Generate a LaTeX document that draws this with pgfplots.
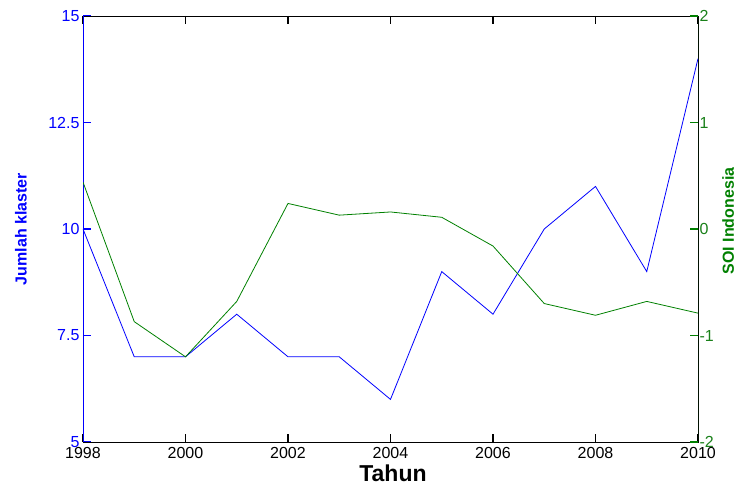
\documentclass[border=0pt]{standalone}
\usepackage{pgfplots}
\pgfplotsset{compat=1.18}
\usepackage{fontspec}
\setmainfont{Liberation Sans}
\definecolor{mblue}{rgb}{0,0,1}
\definecolor{mgreen}{rgb}{0,0.5,0}
\begin{document}
\begin{tikzpicture}
\useasboundingbox (-83pt,-49pt) rectangle (661pt,442pt);
\begin{axis}[
  scale only axis, width=615pt, height=426pt,
  xmin=1998, xmax=2010, ymin=5, ymax=15,
  axis line style={black, line width=0.8pt},
  tick align=inside, xtick pos=both, ytick pos=left,
  major tick length=8pt,
  xtick={1998,2000,2002,2004,2006,2008,2010},
  xticklabels={1998,2000,2002,2004,2006,2008,2010},
  ytick={5,7.5,10,12.5,15},
  yticklabels={5,7.5,10,12.5,15},
  major tick style={line width=1.2pt},
  every x tick/.append style={black},
  every y tick/.append style={mblue},
  x tick label style={font=\fontsize{16}{18}\selectfont, black, yshift=-2pt},
  y tick label style={font=\fontsize{16}{18}\selectfont, mblue},
  xlabel={\textbf{Tahun}},
  xlabel style={font=\fontsize{23}{26}\selectfont, at={(axis description cs:0.504,-0.073)}, anchor=center},
  ylabel={\textbf{Jumlah klaster}},
  ylabel style={font=\fontsize{16}{18}\selectfont, text=mblue, at={(axis description cs:-0.101,0.5)}, anchor=center},
]
\addplot[mblue, line width=0.8pt] coordinates {
(1998,10) (1999,7) (2000,7) (2001,8) (2002,7) (2003,7) (2004,6)
(2005,9) (2006,8) (2007,10) (2008,11) (2009,9) (2010,14)};
\draw[mblue, line width=0.8pt] (rel axis cs:0,0) -- (rel axis cs:0,1);
\end{axis}
\begin{axis}[
  scale only axis, width=615pt, height=426pt,
  xmin=1998, xmax=2010, ymin=-2, ymax=2,
  axis line style={draw=none},
  tick align=inside, ytick pos=right, major tick length=8pt,
  xtick=\empty,
  ytick={-2,-1,0,1,2},
  yticklabels={-2,-1,0,1,2},
  major tick style={mgreen, line width=1.2pt},
  y tick label style={font=\fontsize{16}{18}\selectfont, mgreen!80!gray, xshift=-2pt},
  ylabel={\textbf{SOI Indonesia}},
  ylabel style={font=\fontsize{16}{18}\selectfont, text=mgreen, at={(axis description cs:1.049,0.519)}, anchor=center, rotate=0},
]
\addplot[mgreen, line width=0.8pt] coordinates {
(1998,0.44) (1999,-0.87) (2000,-1.2) (2001,-0.68) (2002,0.24) (2003,0.13) (2004,0.16)
(2005,0.11) (2006,-0.16) (2007,-0.70) (2008,-0.81) (2009,-0.68) (2010,-0.79)};
\draw[mgreen, line width=0.8pt] (rel axis cs:1,0) -- (rel axis cs:1,1);
\end{axis}
\end{tikzpicture}
\end{document}
